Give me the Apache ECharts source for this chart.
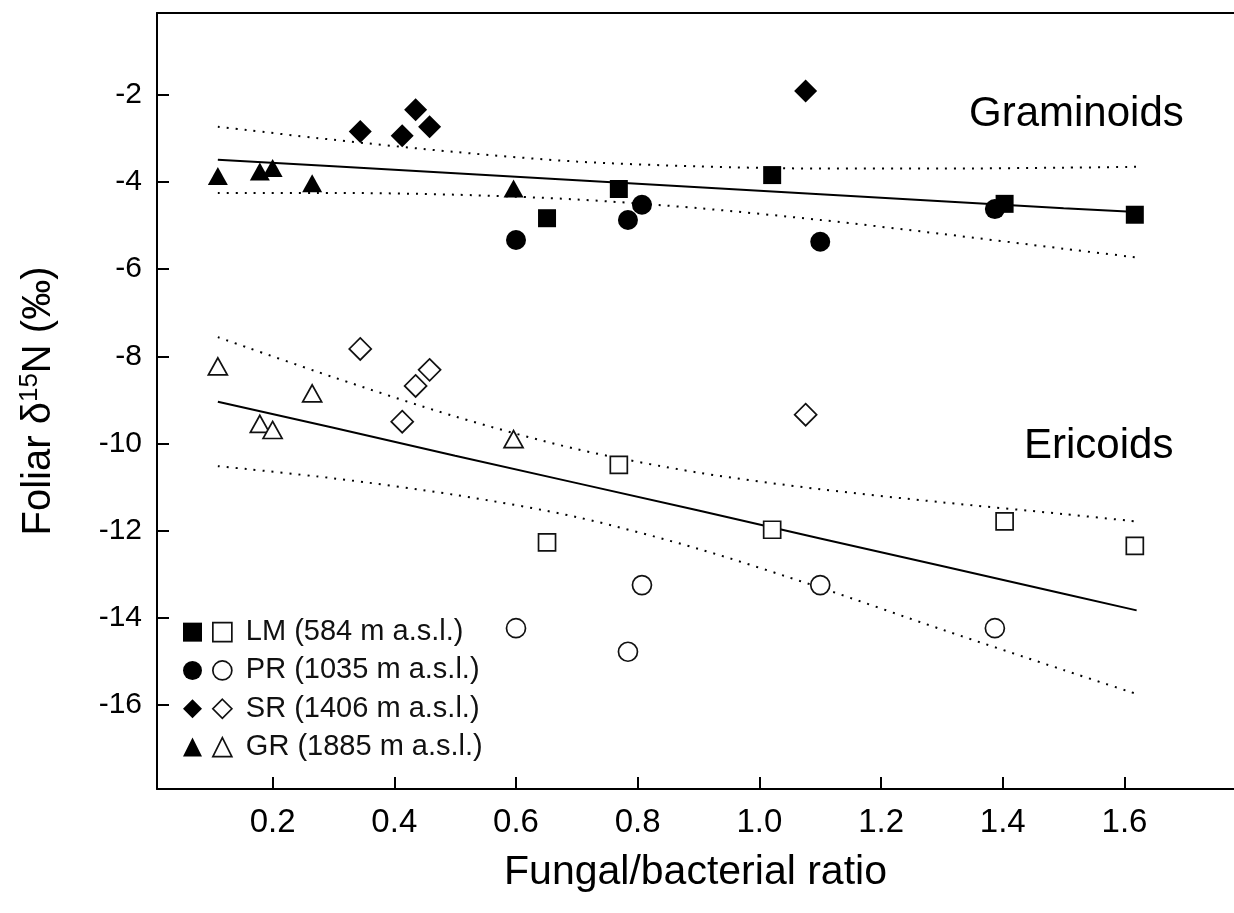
<!DOCTYPE html>
<html>
<head>
<meta charset="utf-8">
<script src="https://cdn.jsdelivr.net/npm/echarts@6/dist/echarts.min.js"></script>
<style>
html,body{margin:0;padding:0;background:#fff;}
#chart{width:1234px;height:913px;}
</style>
</head>
<body>
<div id="chart"></div>
<script>
// ---- data ----
const xTicks = [0.2, 0.4, 0.6, 0.8, 1.0, 1.2, 1.4, 1.6];
const yTicks = [-16, -14, -12, -10, -8, -6, -4, -2];

const siteNames = ['LM (584 m a.s.l.)', 'PR (1035 m a.s.l.)', 'SR (1406 m a.s.l.)', 'GR (1885 m a.s.l.)'];

const lmX = [0.651, 0.769, 1.021, 1.403, 1.617];
const lmGram = [-4.83, -4.16, -3.84, -4.50, -4.75];
const lmEric = [-12.27, -10.49, -11.98, -11.79, -12.35];

const prX = [0.600, 0.784, 0.807, 1.100, 1.387];
const prGram = [-5.33, -4.87, -4.52, -5.37, -4.62];
const prEric = [-14.24, -14.78, -13.25, -13.25, -14.24];

const srX = [0.344, 0.413, 0.435, 0.458, 1.076];
const srGram = [-2.84, -2.94, -2.34, -2.73, -1.91];
const srEric = [-7.83, -9.50, -8.68, -8.31, -9.34];

const grX = [0.110, 0.179, 0.200, 0.265, 0.596];
const grGram = [-3.86, -3.76, -3.68, -4.03, -4.15];
const grEric = [-8.23, -9.55, -9.69, -8.85, -9.90];

// regression lines and confidence bands
const fitX = [0.11, 0.3, 0.5, 0.7, 0.9, 1.1, 1.3, 1.5, 1.62];
const gramFit = [-3.49, -3.64, -3.80, -3.96, -4.12, -4.28, -4.44, -4.60, -4.69];
const gramUpper = [-2.73, -3.03, -3.31, -3.53, -3.64, -3.69, -3.69, -3.67, -3.65];
const gramLower = [-4.25, -4.25, -4.29, -4.40, -4.60, -4.87, -5.19, -5.53, -5.73];
const ericFit = [-9.04, -9.64, -10.28, -10.91, -11.54, -12.18, -12.81, -13.45, -13.83];
const ericUpper = [-7.56, -8.48, -9.38, -10.13, -10.67, -11.05, -11.35, -11.62, -11.79];
const ericLower = [-10.52, -10.80, -11.18, -11.69, -12.42, -13.31, -14.27, -15.20, -15.75];

// ---- build ----
const FONT = '"Liberation Sans", Arial, Helvetica, sans-serif';
const zip = (xs, ys) => xs.map((x, i) => [x, ys[i]]);

const sites = [
  {key: 'LM', x: lmX, g: lmGram, e: lmEric, symbol: 'rect', size: 18, name: siteNames[0]},
  {key: 'PR', x: prX, g: prGram, e: prEric, symbol: 'circle', size: 20, name: siteNames[1]},
  {key: 'SR', x: srX, g: srGram, e: srEric, symbol: 'diamond', size: 23, name: siteNames[2]},
  {key: 'GR', x: grX, g: grGram, e: grEric, symbol: 'triangle', size: [20, 18], name: siteNames[3]}
];

const series = [];
function lineSeries(name, ys, dotted) {
  return {
    name: name, type: 'line', data: zip(fitX, ys), symbol: 'none', smooth: dotted ? 0.3 : false,
    silent: true, z: 1,
    lineStyle: dotted ? {color: '#000', width: 2, type: [2, 7]} : {color: '#000', width: 2}
  };
}
series.push(lineSeries('gFit', gramFit, false));
series.push(lineSeries('gUp', gramUpper, true));
series.push(lineSeries('gLo', gramLower, true));
series.push(lineSeries('eFit', ericFit, false));
series.push(lineSeries('eUp', ericUpper, true));
series.push(lineSeries('eLo', ericLower, true));

sites.forEach(s => {
  series.push({
    name: s.key, type: 'scatter', data: zip(s.x, s.g), symbol: s.symbol, symbolSize: s.size, z: 3,
    itemStyle: {color: '#000', opacity: 1}
  });
  series.push({
    name: s.name, type: 'scatter', data: zip(s.x, s.e), symbol: s.symbol,
    symbolSize: Array.isArray(s.size) ? [s.size[0] - 1, s.size[1] - 1] : s.size - 1, z: 3,
    itemStyle: {color: '#fff', borderColor: '#111', borderWidth: 1.7, opacity: 1}
  });
});

const chart = echarts.init(document.getElementById('chart'), null, {renderer: 'canvas'});
chart.setOption({
  animation: false,
  backgroundColor: '#fff',
  textStyle: {fontFamily: FONT},
  grid: {left: 157, top: 13, right: 0, bottom: 124, show: false, outerBoundsMode: 'none', containLabel: false},
  xAxis: [{
    type: 'value', min: 0.01, max: 1.78,
    axisLine: {show: true, onZero: false, lineStyle: {color: '#000', width: 2}},
    axisTick: {show: true, inside: true, length: 12, customValues: xTicks, lineStyle: {color: '#000', width: 2}},
    axisLabel: {customValues: xTicks, formatter: v => v.toFixed(1), fontSize: 33, color: '#000', margin: 17, fontFamily: FONT},
    splitLine: {show: false},
    name: 'Fungal/bacterial ratio', nameLocation: 'middle', nameGap: 63,
    nameTextStyle: {fontSize: 41, color: '#000', fontFamily: FONT}
  }, {
    type: 'value', min: 0.01, max: 1.78, position: 'top',
    axisLine: {show: true, onZero: false, lineStyle: {color: '#000', width: 2}},
    axisTick: {show: false}, axisLabel: {show: false}, splitLine: {show: false}
  }],
  yAxis: {
    type: 'value', min: -17.93, max: -0.12,
    axisLine: {show: true, onZero: false, lineStyle: {color: '#000', width: 2}},
    axisTick: {show: true, inside: true, length: 12, customValues: yTicks, lineStyle: {color: '#000', width: 2}},
    axisLabel: {customValues: yTicks, formatter: v => String(v), fontSize: 30, color: '#000', margin: 15, fontFamily: FONT},
    splitLine: {show: false},
    name: '{t|Foliar δ}{s|15}{t|N (‰)}', nameLocation: 'middle', nameGap: 96, nameRotate: 90,
    nameTextStyle: {
      color: '#000', fontFamily: FONT, fontSize: 40,
      rich: {
        t: {fontSize: 40, color: '#000', fontFamily: FONT, lineHeight: 44},
        s: {fontSize: 26, color: '#000', fontFamily: FONT, verticalAlign: 'top', lineHeight: 30}
      }
    }
  },
  legend: [
    {
      data: sites.map(s => s.key), orient: 'vertical', left: 183, top: 613, padding: 0, itemGap: 0,
      itemWidth: 19, itemHeight: 19, selectedMode: false, formatter: () => ' ',
      textStyle: {fontSize: 29, lineHeight: 38.3, fontFamily: FONT},
      itemStyle: {color: '#000', borderWidth: 0}
    },
    {
      data: sites.map(s => s.name), orient: 'vertical', left: 212, top: 613, padding: 0, itemGap: 0,
      itemWidth: 19, itemHeight: 19, selectedMode: false,
      textStyle: {fontSize: 29, lineHeight: 38.3, color: '#111', fontFamily: FONT, padding: [0, 0, 0, 9]},
      itemStyle: {color: '#fff', borderColor: '#111', borderWidth: 1.7}
    }
  ],
  graphic: [
    {type: 'text', left: 969, top: 93, style: {text: 'Graminoids', font: '42px ' + FONT, fill: '#000'}},
    {type: 'text', left: 1024, top: 425, style: {text: 'Ericoids', font: '42px ' + FONT, fill: '#000'}}
  ],
  series: series
});
</script>
</body>
</html>
